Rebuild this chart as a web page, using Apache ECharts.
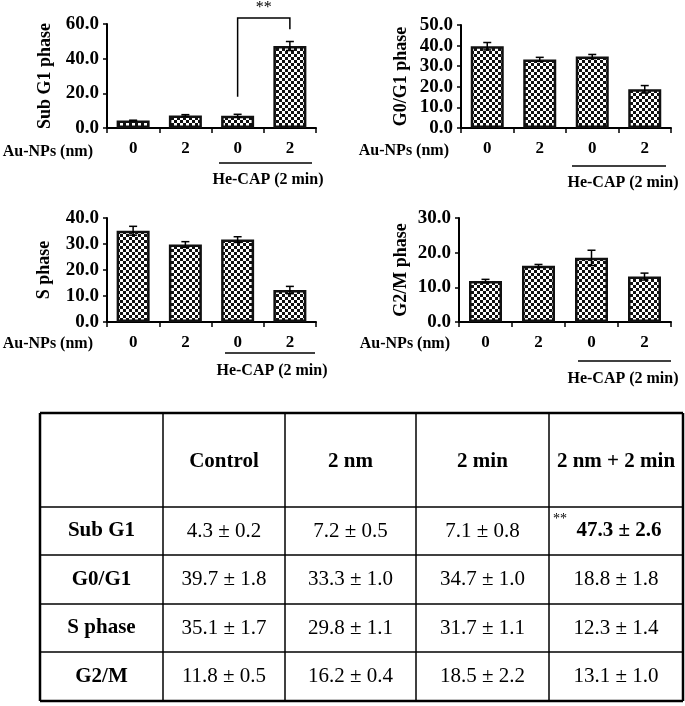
<!DOCTYPE html>
<html><head><meta charset="utf-8">
<script src="https://cdn.jsdelivr.net/npm/echarts@6/dist/echarts.min.js"></script>
<style>html,body{margin:0;padding:0;background:#fff;} #c{width:685px;height:706px;}</style>
</head><body><div id="c"></div>
<script>
// ---------- data ----------
const categories = ['0', '2', '0', '2'];
const groupLabel = 'He-CAP (2 min)';
const xName = 'Au-NPs (nm)';
const subG1Mean = [4.3, 7.2, 7.1, 47.3];
const subG1Err  = [0.2, 0.5, 0.8, 2.6];
const g0g1Mean  = [39.7, 33.3, 34.7, 18.8];
const g0g1Err   = [1.8, 1.0, 1.0, 1.8];
const sMean     = [35.1, 29.8, 31.7, 12.3];
const sErr      = [1.7, 1.1, 1.1, 1.4];
const g2mMean   = [11.8, 16.2, 18.5, 13.1];
const g2mErr    = [0.5, 0.4, 2.2, 1.0];
const axisMax   = [60, 50, 40, 30];
const axisStep  = [20, 10, 10, 10];
const axisTitles = ['Sub G1 phase', 'G0/G1 phase', 'S phase', 'G2/M phase'];
const tableHeaders = ['', 'Control', '2 nm', '2 min', '2 nm + 2 min'];
const tableRows = ['Sub G1', 'G0/G1', 'S phase', 'G2/M'];
// significance bracket: from group 2 to group 3 (0-based), values
const sigBracket = [[2, 18, 3, 63.5, 57]];
const sigText = '**';

// ---------- layout / style ----------
const FONT = '"Liberation Serif", "Times New Roman", serif';
const means = [subG1Mean, g0g1Mean, sMean, g2mMean];
const errs = [subG1Err, g0g1Err, sErr, g2mErr];
const grids = [
  {left: 107, top: 24, width: 209, height: 104},
  {left: 461, top: 25, width: 210, height: 103},
  {left: 107, top: 218, width: 209, height: 104},
  {left: 459, top: 218, width: 212, height: 104}
];
const nameGaps = [53, 51, 54, 49];

function checker() {
  const s = 3;
  const c = document.createElement('canvas'); c.width = 2 * s; c.height = 2 * s;
  const g = c.getContext('2d');
  g.fillStyle = '#fff'; g.fillRect(0, 0, 2 * s, 2 * s);
  g.fillStyle = '#111'; g.fillRect(0, 0, s, s); g.fillRect(s, s, s, s);
  return c;
}
const pattern = {image: checker(), repeat: 'repeat'};

const xAxes = [], yAxes = [], series = [];
grids.forEach((g, i) => {
  xAxes.push({
    gridIndex: i, type: 'category', data: categories,
    axisLine: {lineStyle: {color: '#000', width: 2}},
    axisTick: {show: true, length: 5, lineStyle: {color: '#000', width: 1.5}},
    axisLabel: {color: '#000', fontFamily: FONT, fontWeight: 'bold', fontSize: 17, margin: 12}
  });
  yAxes.push({
    gridIndex: i, type: 'value', min: 0, max: axisMax[i], interval: axisStep[i],
    name: axisTitles[i], nameLocation: 'middle', nameRotate: 90, nameGap: nameGaps[i],
    nameTextStyle: {color: '#000', fontFamily: FONT, fontWeight: 'bold', fontSize: 18},
    axisLine: {show: true, lineStyle: {color: '#000', width: 2}},
    axisTick: {show: true, length: 4, lineStyle: {color: '#000', width: 1.5}},
    axisLabel: {color: '#000', fontFamily: FONT, fontWeight: 'bold', fontSize: 19, margin: 8,
      formatter: v => v.toFixed(1)},
    splitLine: {show: false}
  });
  series.push({
    type: 'bar', xAxisIndex: i, yAxisIndex: i, data: means[i], barWidth: 33,
    itemStyle: {color: pattern, borderColor: '#111', borderWidth: 2.5},
    silent: true, animation: false
  });
  series.push({
    type: 'custom', xAxisIndex: i, yAxisIndex: i, z: 5, animation: false, silent: true,
    data: means[i].map((m, k) => [k, m, errs[i][k]]),
    encode: {x: 0, y: 1},
    renderItem: (params, api) => {
      const x = api.value(0), m = api.value(1), e = api.value(2);
      const t = api.coord([x, m + e]), b = api.coord([x, m - e]);
      const hw = 4, st = {stroke: '#000', lineWidth: 1.5};
      return {type: 'group', children: [
        {type: 'line', shape: {x1: t[0], y1: t[1], x2: b[0], y2: b[1]}, style: st},
        {type: 'line', shape: {x1: t[0] - hw, y1: t[1], x2: t[0] + hw, y2: t[1]}, style: st},
        {type: 'line', shape: {x1: b[0] - hw, y1: b[1], x2: b[0] + hw, y2: b[1]}, style: st}
      ]};
    }
  });
});

// significance bracket on first panel
series.push({
  type: 'custom', xAxisIndex: 0, yAxisIndex: 0, clip: false, z: 6, animation: false, silent: true,
  data: sigBracket, encode: {x: [0, 2], y: [1, 3, 4]},
  renderItem: (params, api) => {
    const p1 = api.coord([api.value(0), api.value(1)]);
    const p2 = api.coord([api.value(0), api.value(3)]);
    const p3 = api.coord([api.value(2), api.value(3)]);
    const p4 = api.coord([api.value(2), api.value(4)]);
    return {type: 'group', children: [
      {type: 'polyline', shape: {points: [p1, p2, p3, p4]}, style: {stroke: '#000', lineWidth: 1.5, fill: null}},
      {type: 'text', x: (p2[0] + p3[0]) / 2, y: p2[1] - 10,
        style: {text: sigText, fill: '#000', font: '16px ' + FONT, align: 'center', verticalAlign: 'middle'}}
    ]};
  }
});

// ---------- graphic annotations ----------
const graphic = [];
const xNamePos = [[93, 152], [449, 151], [93, 344], [450, 344]];
const underline = [[219, 312, 163], [572, 666, 166], [225, 315, 353], [578, 671, 361]];
const groupPos = [[268, 180], [623, 183], [272, 371], [623, 379]];
for (let i = 0; i < 4; i++) {
  graphic.push({type: 'text', x: xNamePos[i][0], y: xNamePos[i][1],
    style: {text: xName, fill: '#000', font: 'bold 16px ' + FONT, align: 'right', verticalAlign: 'middle'}});
  graphic.push({type: 'line', shape: {x1: underline[i][0], y1: underline[i][2], x2: underline[i][1], y2: underline[i][2]},
    style: {stroke: '#000', lineWidth: 1.5}});
  graphic.push({type: 'text', x: groupPos[i][0], y: groupPos[i][1],
    style: {text: groupLabel, fill: '#000', font: 'bold 16px ' + FONT, align: 'center', verticalAlign: 'middle'}});
}

// ---------- table ----------
const colX = [40, 163, 285, 416, 549, 683];
const rowY = [413, 507, 555, 604, 652, 701];
for (let k = 0; k < colX.length; k++) {
  const outer = (k === 0 || k === colX.length - 1);
  graphic.push({type: 'line', shape: {x1: colX[k], y1: rowY[0], x2: colX[k], y2: rowY[rowY.length - 1]},
    style: {stroke: '#000', lineWidth: outer ? 2.5 : 1.5}});
}
for (let k = 0; k < rowY.length; k++) {
  const outer = (k === 0 || k === rowY.length - 1);
  graphic.push({type: 'line', shape: {x1: colX[0], y1: rowY[k], x2: colX[colX.length - 1], y2: rowY[k]},
    style: {stroke: '#000', lineWidth: outer ? 2.5 : 1.5}});
}
const cx = c => (colX[c] + colX[c + 1]) / 2;
const cy = r => (rowY[r] + rowY[r + 1]) / 2;
tableHeaders.forEach((h, c) => {
  if (!h) return;
  graphic.push({type: 'text', x: cx(c), y: cy(0) + 2,
    style: {text: h, fill: '#000', font: 'bold 21px ' + FONT, align: 'center', verticalAlign: 'middle'}});
});
tableRows.forEach((r, ri) => {
  graphic.push({type: 'text', x: cx(0), y: cy(ri + 1),
    style: {text: r, fill: '#000', font: 'bold 21px ' + FONT, align: 'center', verticalAlign: 'middle'}});
  for (let c = 0; c < 4; c++) {
    const sig = (ri === 0 && c === 3);
    graphic.push({type: 'text', x: cx(c + 1) + (sig ? 3 : 0), y: cy(ri + 1),
      style: {text: means[ri][c].toFixed(1) + ' ± ' + errs[ri][c].toFixed(1), fill: '#000',
        font: (sig ? 'bold ' : '') + '21px ' + FONT, align: 'center', verticalAlign: 'middle'}});
    if (sig) {
      graphic.push({type: 'text', x: colX[4] + 4, y: rowY[1] + 12,
        style: {text: sigText, fill: '#000', font: '14px ' + FONT, align: 'left', verticalAlign: 'middle'}});
    }
  }
});

const chart = echarts.init(document.getElementById('c'), null, {renderer: 'canvas'});
chart.setOption({
  animation: false,
  backgroundColor: '#fff',
  grid: grids.map(g => Object.assign({containLabel: false}, g)),
  xAxis: xAxes, yAxis: yAxes, series: series, graphic: graphic
});
</script></body></html>
